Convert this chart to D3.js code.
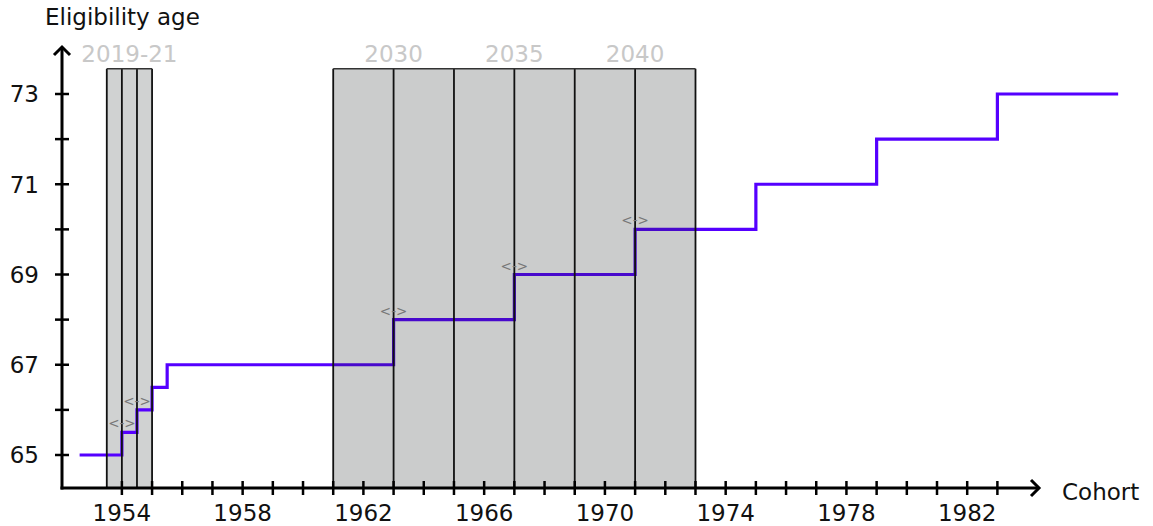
<!DOCTYPE html>
<html><head><meta charset="utf-8">
<script src="https://cdn.jsdelivr.net/npm/d3@7"></script>
<style>body{margin:0;background:#fff}svg{display:block;font-family:"DejaVu Sans",Verdana,sans-serif}</style>
</head><body><svg id="c" width="1153" height="526"></svg>
<script>
// Data
const stepCohorts = [1952.6, 1954, 1954.5, 1955, 1955.5, 1963, 1967, 1971, 1975, 1979, 1983, 1987];
const stepAges = [65, 65.5, 66, 66.5, 67, 68, 69, 70, 71, 72, 73];
const bandsEarly = [[1953.5, 1954], [1954, 1954.5], [1954.5, 1955]];
const bandsLate = [[1961, 1963], [1963, 1965], [1965, 1967], [1967, 1969], [1969, 1971], [1971, 1973]];
const bandTop = 73.56;
const periodLabels = ["2019-21", "2030", "2035", "2040"];
const periodLabelCohorts = [1954.25, 1963, 1967, 1971];
const markerCohorts = [1954, 1954.5, 1963, 1967, 1971];
const markerAges = [65.5, 66, 68, 69, 70];
const xTickLabels = [1954, 1958, 1962, 1966, 1970, 1974, 1978, 1982];
const xMinorTicks = d3.range(1954, 1984, 1);
const yTickLabels = [65, 67, 69, 71, 73];
const yMinorTicks = d3.range(65, 74, 1);

const svg = d3.select("#c");
const x = d3.scaleLinear().domain([1952, 1984]).range([61.5, 61.5 + 32 * 30.19]);
const y = d3.scaleLinear().domain([65, 73]).range([455, 94]);
const x0 = 62, yAxisY = 488, xEnd = 1040, yTop = 46;
const FS = 23;

function drawBands(bands, late) {
  svg.append("g").selectAll("rect").data(bands).join("rect")
    .attr("x", d => x(d[0])).attr("width", d => x(d[1]) - x(d[0]))
    .attr("y", y(bandTop)).attr("height", yAxisY - y(bandTop))
    .attr("fill", late ? "rgb(30,36,36)" : "#d0d2d2")
    .attr("fill-opacity", late ? 0.23 : 1);
}
function drawBandLines(bands) {
  const g = svg.append("g");
  const edges = Array.from(new Set(bands.flat()));
  g.selectAll("line").data(edges).join("line")
    .attr("x1", d => x(d)).attr("x2", d => x(d))
    .attr("y1", y(bandTop)).attr("y2", yAxisY)
    .attr("stroke", "#111").attr("stroke-width", 1.8);
  g.append("line").attr("x1", x(bands[0][0])).attr("x2", x(bands[bands.length - 1][1]))
    .attr("y1", y(bandTop)).attr("y2", y(bandTop)).attr("stroke", "#333").attr("stroke-width", 1.5);
}
drawBands(bandsEarly, false);

const pts = [];
stepAges.forEach((a, i) => { pts.push([stepCohorts[i], a]); pts.push([stepCohorts[i + 1], a]); });
svg.append("path").datum(pts)
  .attr("d", d3.line().x(d => x(d[0])).y(d => y(d[1])))
  .attr("fill", "none").attr("stroke", "#5500ff").attr("stroke-width", 3.2);

drawBands(bandsLate, true);
drawBandLines(bandsEarly);
drawBandLines(bandsLate);

svg.append("g").selectAll("text").data(markerCohorts).join("text")
  .attr("x", d => x(d)).attr("y", (d, i) => y(markerAges[i]) - 4)
  .attr("text-anchor", "middle").attr("font-size", 13.5).attr("fill", "#777")
  .text("<->");

svg.append("g").selectAll("text").data(periodLabels).join("text")
  .attr("x", (d, i) => x(periodLabelCohorts[i])).attr("y", 62)
  .attr("text-anchor", "middle").attr("font-size", FS).attr("fill", "#c8c8c8")
  .text(d => d);

const ax = svg.append("g").attr("stroke", "#000");
ax.append("line").attr("x1", x0).attr("x2", x0).attr("y1", yAxisY + 1.5).attr("y2", yTop + 1).attr("stroke-width", 3);
ax.append("line").attr("x1", x0 - 1.5).attr("x2", xEnd - 1).attr("y1", yAxisY).attr("y2", yAxisY).attr("stroke-width", 3);
ax.append("path").attr("d", `M${x0 - 8},${yTop + 9}L${x0},${yTop + 1}L${x0 + 8},${yTop + 9}`).attr("fill", "none").attr("stroke-width", 3);
ax.append("path").attr("d", `M${xEnd - 9},${yAxisY - 8}L${xEnd - 1},${yAxisY}L${xEnd - 9},${yAxisY + 8}`).attr("fill", "none").attr("stroke-width", 3);
ax.selectAll("line.xt").data(xMinorTicks).join("line").attr("class", "xt")
  .attr("x1", d => x(d)).attr("x2", d => x(d)).attr("y1", yAxisY - 7).attr("y2", yAxisY + 7).attr("stroke-width", 2.5);
ax.selectAll("line.yt").data(yMinorTicks).join("line").attr("class", "yt")
  .attr("y1", d => y(d)).attr("y2", d => y(d)).attr("x1", x0 - 7).attr("x2", x0 + 7).attr("stroke-width", 2.5);

svg.append("g").selectAll("text").data(xTickLabels).join("text")
  .attr("x", d => x(d)).attr("y", 521).attr("text-anchor", "middle")
  .attr("font-size", FS).attr("fill", "#111").text(d => d);
svg.append("g").selectAll("text").data(yTickLabels).join("text")
  .attr("x", 39).attr("y", d => y(d)).attr("dy", "0.36em").attr("text-anchor", "end")
  .attr("font-size", FS).attr("fill", "#111").text(d => d);

svg.append("text").attr("x", 45).attr("y", 25).attr("font-size", FS).attr("fill", "#111").text("Eligibility age");
svg.append("text").attr("x", 1062).attr("y", 500).attr("font-size", FS).attr("fill", "#111").text("Cohort");
</script></body></html>
